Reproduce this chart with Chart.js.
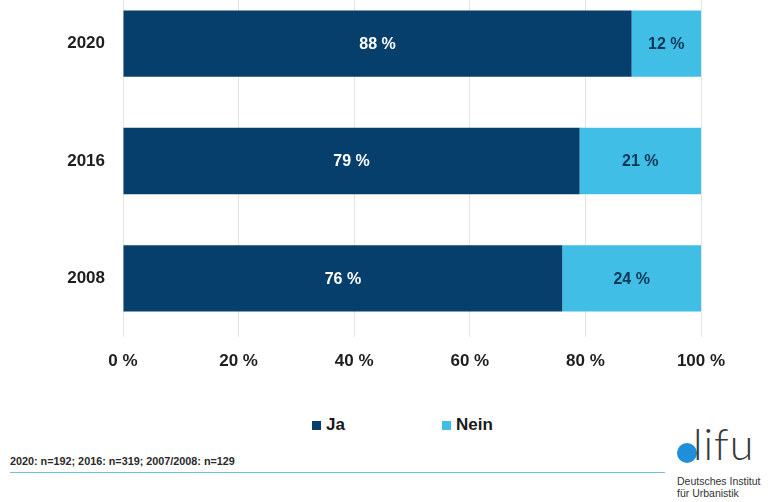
<!DOCTYPE html>
<html lang="de">
<head>
<meta charset="utf-8">
<title>Umfrage 2008–2020</title>
<script src="https://cdn.jsdelivr.net/npm/chart.js@4.4.1/dist/chart.umd.min.js"></script>
<style>
  html, body { margin: 0; padding: 0; background: #ffffff; }
  body { width: 784px; height: 502px; position: relative; overflow: hidden;
         font-family: "Liberation Sans", Arial, sans-serif; }
  #chartBox { position: absolute; left: 0; top: -15px; width: 784px; height: 400px; }
  .legend-item { position: absolute; top: 415px; font-weight: bold; font-size: 17px; color: #1a1a1a; line-height: 20px; }
  .legend-item span.box { position: absolute; left: 0; top: 6px; width: 9px; height: 9px; }
  .legend-item span.txt { position: absolute; left: 14px; top: 0; white-space: nowrap; }
  #note { position: absolute; left: 10px; top: 455px; font-size: 10.8px; font-weight: bold; color: #2a2a2a; white-space: nowrap; }
  #rule { position: absolute; left: 10px; top: 472px; width: 655px; height: 1px; background: #6cc4d8; }
  #logoDot { position: absolute; left: 677px; top: 443px; width: 20px; height: 20px; border-radius: 50%; background: #1e8fd8; }
  #logoWord { position: absolute; left: 693px; top: 422px; font-family: Lato, "Open Sans", sans-serif; font-weight: 300; font-size: 43px; color: #3a3a3a; letter-spacing: 1px; line-height: 44px; }
  #logoSub { position: absolute; left: 677px; top: 475px; font-family: "Liberation Sans", Arial, sans-serif; font-size: 10.5px; color: #333; line-height: 12px; white-space: nowrap; }
</style>
</head>
<body>
<div id="chartBox"><canvas id="chart"></canvas></div>
<div id="legend"></div>
<div id="note"></div>
<div id="rule"></div>
<div id="logoDot"></div>
<div id="logoWord">lifu</div>
<div id="logoSub">Deutsches Institut<br>für Urbanistik</div>
<script>
// Survey years and answer shares (percent)
const years = ['2020', '2016', '2008'];
const jaValues = [88, 79, 76];
const neinValues = [12, 21, 24];
const seriesNames = ['Ja', 'Nein'];
const xTicks = [0, 20, 40, 60, 80, 100];
const sampleNote = '2020: n=192; 2016: n=319; 2007/2008: n=129';

const NAVY = '#063f6b';
const SKY = '#40bee6';
const LABEL_COLORS = ['#ffffff', '#0b3658'];

// Writes the percentage in the middle of every bar segment
const segmentLabels = {
  id: 'segmentLabels',
  afterDatasetsDraw(chart) {
    const ctx = chart.ctx;
    ctx.save();
    ctx.font = 'bold 16px "Liberation Sans", Arial, sans-serif';
    ctx.textAlign = 'center';
    ctx.textBaseline = 'middle';
    chart.data.datasets.forEach((ds, di) => {
      const meta = chart.getDatasetMeta(di);
      meta.data.forEach((bar, i) => {
        const p = bar.getCenterPoint();
        ctx.fillStyle = LABEL_COLORS[di];
        ctx.fillText(ds.data[i] + ' %', p.x, p.y + 1);
      });
    });
    ctx.restore();
  }
};

const chart = new Chart(document.getElementById('chart'), {
  type: 'bar',
  data: {
    labels: years,
    datasets: [
      { label: seriesNames[0], data: jaValues, backgroundColor: NAVY,
        barPercentage: 0.565, categoryPercentage: 1.0 },
      { label: seriesNames[1], data: neinValues, backgroundColor: SKY,
        barPercentage: 0.565, categoryPercentage: 1.0 }
    ]
  },
  options: {
    indexAxis: 'y',
    responsive: true,
    maintainAspectRatio: false,
    animation: false,
    layout: { padding: { left: 0, right: 83, top: 0, bottom: 0 } },
    plugins: {
      legend: { display: false },
      tooltip: { enabled: false }
    },
    scales: {
      x: {
        stacked: true,
        min: 0,
        max: 100,
        afterBuildTicks(scale) { scale.ticks = xTicks.map(v => ({ value: v })); },
        afterFit(scale) {
          scale.height = 48;
          scale.paddingLeft = 0;
          scale.paddingRight = 0;
        },
        border: { display: false },
        grid: { color: '#e4e4e4', lineWidth: 1, drawTicks: false },
        ticks: {
          padding: 14,
          color: '#1e1e1e',
          font: { family: '"Liberation Sans", Arial, sans-serif', size: 17, weight: 'bold' },
          callback: v => v + ' %'
        }
      },
      y: {
        stacked: true,
        afterFit(scale) {
          scale.width = 123;
          scale.paddingTop = 0;
          scale.paddingBottom = 0;
        },
        border: { display: false },
        grid: { display: false, drawTicks: false },
        ticks: {
          padding: 18,
          color: '#1e1e1e',
          font: { family: '"Liberation Sans", Arial, sans-serif', size: 17, weight: 'bold' }
        }
      }
    }
  },
  plugins: [segmentLabels]
});

// Legend built from the chart's own datasets
const legendPos = [312, 442];
const legendEl = document.getElementById('legend');
chart.data.datasets.forEach((ds, i) => {
  const item = document.createElement('div');
  item.className = 'legend-item';
  item.style.left = legendPos[i] + 'px';
  item.innerHTML = '<span class="box" style="background:' + ds.backgroundColor + '"></span>' +
                   '<span class="txt">' + ds.label + '</span>';
  legendEl.appendChild(item);
});

document.getElementById('note').textContent = sampleNote;
</script>
</body>
</html>
